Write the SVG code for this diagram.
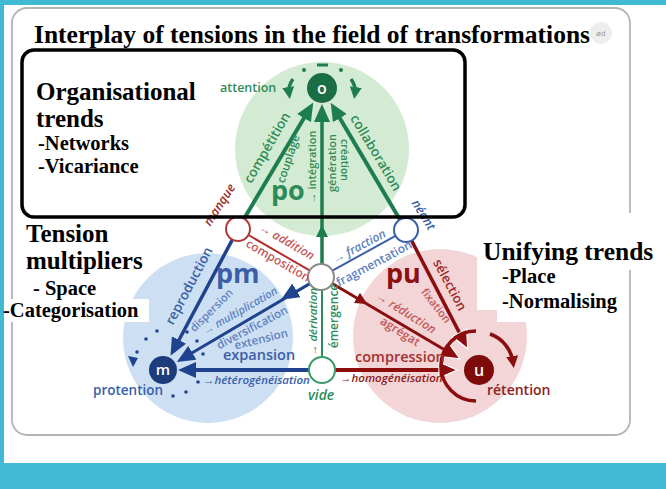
<svg xmlns="http://www.w3.org/2000/svg" width="666" height="489" viewBox="0 0 666 489">
<defs>
<style>
.hd{font-family:"Liberation Serif","Times New Roman",serif;font-weight:bold;fill:#000}
.h1{font-size:25px}
.h2{font-size:20.5px}
.d{font-family:"Open Sans","Noto Sans",sans-serif;font-weight:600}
.it{font-style:italic}
.g{fill:#2e8b57}
.b{fill:#3a5ea8}
.bl{fill:#5f80c0}
.r{fill:#a02828}
.rl{fill:#c45a5a}
.ring{fill:#fff;stroke-width:2}
</style>
<marker id="ag" viewBox="0 0 18 16" refX="4" refY="8" markerWidth="18" markerHeight="16" markerUnits="userSpaceOnUse" orient="auto"><path d="M0,0 L18,8 L0,16 z" fill="#1d7d4e"/></marker>
<marker id="ab" viewBox="0 0 18 16" refX="4" refY="8" markerWidth="18" markerHeight="16" markerUnits="userSpaceOnUse" orient="auto"><path d="M0,0 L18,8 L0,16 z" fill="#1f438e"/></marker>
<marker id="ar" viewBox="-1 -1 20 18" refX="4" refY="8" markerWidth="20" markerHeight="18" markerUnits="userSpaceOnUse" orient="auto"><path d="M0,0 L18,8 L0,16 z" fill="#8c0d0d" stroke="#fff" stroke-width="1.2"/></marker>
<marker id="as" viewBox="0 0 10 10" refX="5" refY="5" markerWidth="12" markerHeight="12" markerUnits="userSpaceOnUse" orient="auto"><path d="M0,0 L10,5 L0,10 z" fill="#1d7d4e"/></marker>
<marker id="arr" viewBox="0 0 10 10" refX="5" refY="5" markerWidth="12" markerHeight="12" markerUnits="userSpaceOnUse" orient="auto"><path d="M0,0 L10,5 L0,10 z" fill="#8c0d0d"/></marker>
</defs>

<!-- frame -->
<rect x="0" y="0" width="666" height="489" fill="#41b8d4"/>
<rect x="4" y="5" width="662" height="458" fill="#ffffff"/>
<rect x="12" y="8" width="618" height="427" rx="15" fill="#fff" stroke="#b4b4b4" stroke-width="1.8"/>

<text class="hd" x="34" y="43" font-size="25.5">Interplay of tensions in the field of transformations</text>
<g id="edit-icon"><circle cx="601" cy="33" r="11" fill="#eeeeee"/><text x="596" y="36" font-family="Liberation Sans,sans-serif" font-size="8" fill="#9a9a9a">ød</text></g>

<!-- fields -->
<g id="fields">
<circle cx="322" cy="149" r="87" fill="#d4ebd3"/>
<circle cx="208" cy="338" r="85" fill="#cde0f3"/>
<circle cx="440" cy="336" r="87" fill="#f3d5d7"/>
</g>

<!-- connectors -->
<g id="connectors" fill="none" stroke-linecap="butt">
<line x1="244" y1="218.7" x2="306.1" y2="114.6" stroke="#1d7d4e" stroke-width="4" marker-end="url(#ag)"/>
<line x1="322" y1="264" x2="322" y2="118" stroke="#1d7d4e" stroke-width="3.5" marker-end="url(#ag)"/>
<line x1="400" y1="219.7" x2="337.8" y2="114.7" stroke="#1d7d4e" stroke-width="4" marker-end="url(#ag)"/>
<line x1="322" y1="290" x2="322" y2="357" stroke="#2e8b57" stroke-width="2"/>
<path d="M322,240 L322,231" stroke="#1d7d4e" stroke-width="1" marker-end="url(#as)"/>

<line x1="232.4" y1="239.6" x2="177.1" y2="343.5" stroke="#1f438e" stroke-width="3.5" marker-end="url(#ab)"/>
<line x1="309.8" y1="283.6" x2="188.9" y2="354.8" stroke="#1f438e" stroke-width="3" marker-end="url(#ab)"/>
<line x1="309" y1="370" x2="192" y2="370" stroke="#1f438e" stroke-width="4" marker-end="url(#ab)"/>
<line x1="332.4" y1="270.7" x2="395.5" y2="235.8" stroke="#3a5ea8" stroke-width="2"/>
<path d="M298,289.5 L293,292.5" stroke="#1f438e" stroke-width="1" marker-end="url(#ab)" />

<line x1="248.4" y1="235" x2="310" y2="270.7" stroke="#b03030" stroke-width="2"/>
<line x1="411.6" y1="240.6" x2="461.3" y2="336.4" stroke="#8c0d0d" stroke-width="3.5" marker-end="url(#ar)"/>
<line x1="332.2" y1="283.5" x2="447.9" y2="351.7" stroke="#8c0d0d" stroke-width="3" marker-end="url(#ar)"/>
<line x1="335" y1="370" x2="443" y2="370" stroke="#8c0d0d" stroke-width="4" marker-end="url(#ar)"/>
<path d="M356,297.4 L362,301" stroke="#8c0d0d" stroke-width="1" marker-end="url(#arr)"/>

<!-- ring around o -->
<circle cx="304" cy="70" r="2" fill="#1d7d4e"/>
<circle cx="341" cy="70" r="2" fill="#1d7d4e"/>
<line x1="317" y1="65" x2="328" y2="65" stroke="#1d7d4e" stroke-width="3"/>
<path d="M293,79 Q288,86 289,93" stroke="#1d7d4e" stroke-width="3.5" marker-end="url(#as)"/>
<path d="M351,79 Q356,86 355,93" stroke="#1d7d4e" stroke-width="3.5" marker-end="url(#as)"/>

<!-- ring around u -->
<path d="M476,331 A35,35 0 1,0 476,401" stroke="#8c0d0d" stroke-width="3.5"/>
<path d="M490,334 A35,35 0 0,1 513,362" stroke="#8c0d0d" stroke-width="3.5" marker-end="url(#arr)"/>

<!-- ring around m -->
<g fill="#1f438e" stroke="none">
<circle cx="137" cy="352" r="1.8"/><circle cx="146" cy="339" r="1.8"/><circle cx="157" cy="331" r="1.8"/>
<circle cx="187" cy="332" r="1.8"/><circle cx="197" cy="341" r="1.8"/><circle cx="203" cy="354" r="1.8"/>
<circle cx="198" cy="382" r="1.8"/><circle cx="173" cy="396" r="1.8"/><circle cx="186" cy="392" r="1.8"/>
<path d="M128,356 L138,358 L133,367 z"/>
</g>
</g>

<!-- nodes -->
<g id="node-o"><circle cx="322" cy="88" r="15" fill="#1b6d46"/><text class="d" x="322" y="94" font-size="16" font-weight="bold" fill="#fff" text-anchor="middle">o</text></g>
<g id="node-m"><circle cx="163" cy="370" r="14" fill="#1c3c7c"/><text class="d" x="163" y="375" font-size="15" font-weight="bold" fill="#fff" text-anchor="middle">m</text></g>
<g id="node-u"><circle cx="479" cy="370" r="15" fill="#7f0a0a"/><text class="d" x="479" y="376" font-size="16" font-weight="bold" fill="#fff" text-anchor="middle">u</text></g>
<g id="node-manque"><circle class="ring" cx="238" cy="229" r="12" stroke="#b03a3a"/></g>
<g id="node-neant"><circle class="ring" cx="406" cy="230" r="12" stroke="#3a5ea8"/></g>
<g id="node-center"><circle class="ring" cx="321" cy="277" r="13" stroke="#8a8a8a"/></g>
<g id="node-vide"><circle class="ring" cx="322" cy="370" r="13" stroke="#3a9a6a"/></g>

<!-- green labels -->
<g id="labels-green" class="d">
<text class="g" x="220" y="92" font-size="12.5">attention</text>
<text class="g" font-size="13.5" text-anchor="middle" transform="translate(271,150) rotate(-60)">compétition</text>
<text class="g" font-size="11.5" text-anchor="middle" transform="translate(292,160) rotate(-72)">couplage</text>
<text class="g" font-size="11" text-anchor="middle" transform="translate(316,167) rotate(-90)">→ intégration</text>
<text class="g" font-size="11" text-anchor="middle" transform="translate(336,163) rotate(-90)">génération</text>
<text class="g" font-size="10.5" text-anchor="middle" transform="translate(341,160) rotate(90)">création</text>
<text class="g" font-size="13.5" text-anchor="middle" transform="translate(372,155) rotate(59)">collaboration</text>
<text class="g" x="271" y="200" font-size="27" font-weight="bold">po</text>
<text class="g it" font-size="11.5" text-anchor="middle" transform="translate(317,322) rotate(-90)">→ dérivation</text>
<text class="g" font-size="12" text-anchor="middle" transform="translate(338,316) rotate(-90)">émergence</text>
<text class="g it" x="308" y="400" font-size="14">vide</text>
</g>

<!-- blue labels -->
<g id="labels-blue" class="d">
<text class="b" x="216" y="283" font-size="27" font-weight="bold">pm</text>
<text class="b" font-size="13.5" text-anchor="middle" transform="translate(193,288) rotate(-62)">reproduction</text>
<text class="bl" font-size="11" text-anchor="middle" transform="translate(214,313) rotate(-45)">dispersion</text>
<text class="bl it" font-size="11" text-anchor="middle" transform="translate(242,314) rotate(-30)">→ multiplication</text>
<text class="bl" font-size="11.5" text-anchor="middle" transform="translate(254,331) rotate(-28)">diversification</text>
<text class="bl" font-size="11.5" text-anchor="middle" transform="translate(262,343) rotate(-14)">extension</text>
<text class="b" x="223" y="360" font-size="14.5">expansion</text>
<text class="b it" x="203" y="384" font-size="11.5" fill="#2d4d95">→hétérogénéisation</text>
<text class="b" x="93" y="395" font-size="13.5">protention</text>
<text class="bl it" font-size="12" text-anchor="middle" transform="translate(361,250) rotate(-28)">→ fraction</text>
<text class="bl" font-size="12" text-anchor="middle" transform="translate(376,267) rotate(-28)">fragmentation</text>
<text class="b it" font-size="12.5" text-anchor="middle" transform="translate(420,217) rotate(58)">néant</text>
</g>

<!-- red labels -->
<g id="labels-red" class="d">
<text class="r it" font-size="12.5" text-anchor="middle" transform="translate(223,207) rotate(-57)">manque</text>
<text class="rl it" font-size="12" text-anchor="middle" transform="translate(285,245) rotate(30)">→ addition</text>
<text class="rl" font-size="12" text-anchor="middle" transform="translate(276,264) rotate(30)">composition</text>
<text x="386" y="283" font-size="27" font-weight="bold" fill="#8c1010">pu</text>
<text class="r" font-size="13" text-anchor="middle" transform="translate(446,287) rotate(62)">sélection</text>
<text class="rl" font-size="11" text-anchor="middle" transform="translate(433,308) rotate(52)">fixation</text>
<text class="rl it" font-size="12" text-anchor="middle" transform="translate(404,316) rotate(32)">→ réduction</text>
<text class="rl" font-size="12" text-anchor="middle" transform="translate(398,335) rotate(32)">agrégat</text>
<text x="355" y="362" font-size="14.5" fill="#a33030">compression</text>
<text class="it" x="340" y="382" font-size="11.5" fill="#8c1a1a">→homogénéisation</text>
<text x="487" y="395" font-size="14" fill="#8c2020">rétention</text>
</g>

<!-- side captions -->
<g id="caption-left">
<rect x="4" y="299" width="145" height="23" fill="#fff"/>
<text class="hd h1" x="26" y="242">Tension</text>
<text class="hd h1" x="26" y="269">multipliers</text>
<text class="hd h2" x="33" y="295">- Space</text>
<text class="hd h2" x="3" y="317">-Categorisation</text>
</g>
<g id="caption-right">
<rect x="477" y="213" width="185" height="57" fill="#fff"/>
<rect x="477" y="270" width="150" height="40" fill="#fff"/>
<rect x="497" y="300" width="130" height="22" fill="#fff"/>
<text class="hd" x="483" y="260" font-size="25.5">Unifying trends</text>
<text class="hd h2" x="502" y="283">-Place</text>
<text class="hd h2" x="502" y="308">-Normalising</text>
</g>
<g id="caption-top">
<rect x="22" y="50" width="443" height="167" rx="12" fill="none" stroke="#000" stroke-width="3.5"/>
<text class="hd h1" x="36" y="100">Organisational</text>
<text class="hd h1" x="36" y="127">trends</text>
<text class="hd h2" x="38" y="150">-Networks</text>
<text class="hd h2" x="38" y="173">-Vicariance</text>
</g>
</svg>
